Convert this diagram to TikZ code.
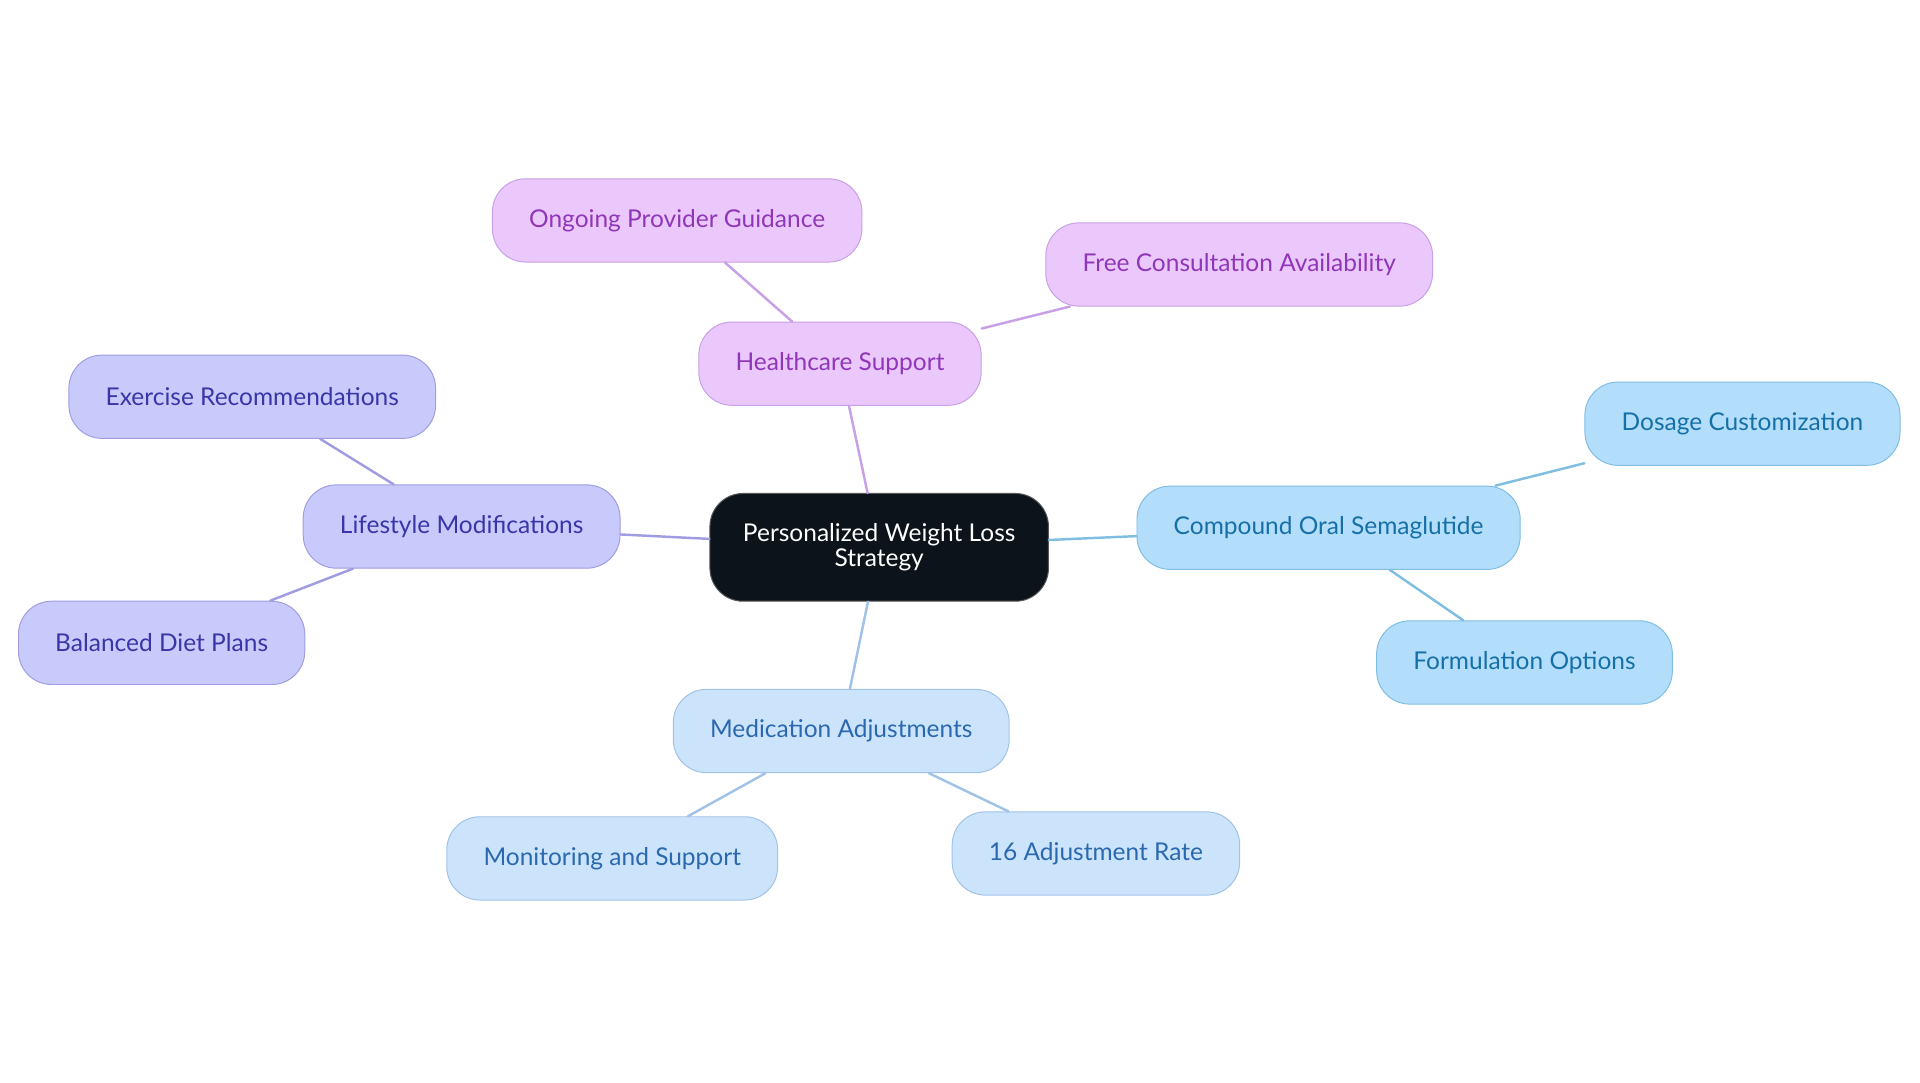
\documentclass[tikz,border=0pt]{standalone}
\usepackage{fontspec}
\setmainfont{Lato}
\definecolor{hubfill}{HTML}{0D131A}
\definecolor{purfill}{HTML}{EAC8FB}
\definecolor{purline}{HTML}{C8A0E8}
\definecolor{purtext}{HTML}{9036B8}
\definecolor{lavfill}{HTML}{C8CAFB}
\definecolor{lavline}{HTML}{A09CE2}
\definecolor{lavtext}{HTML}{3A35A8}
\definecolor{skyfill}{HTML}{B3DEFB}
\definecolor{skyline}{HTML}{80BDE3}
\definecolor{skytext}{HTML}{1670A8}
\definecolor{palefill}{HTML}{CCE4FB}
\definecolor{paleline}{HTML}{A0C2E8}
\definecolor{paletext}{HTML}{2A68B0}

\begin{document}
\begin{tikzpicture}[line cap=round,line join=round,x=1pt,y=-1pt,
  box/.style={rounded corners=27pt,minimum height=68pt,inner xsep=30pt,font=\fontsize{20}{21}\selectfont,line width=0.8pt},
  hub/.style={box,fill=hubfill,draw=gray!70!black,text=white,align=center,minimum height=88pt,inner xsep=27pt},
  pur/.style={box,fill=purfill,draw=purline,text=purtext},
  lav/.style={box,fill=lavfill,draw=lavline,text=lavtext},
  sky/.style={box,fill=skyfill,draw=skyline,text=skytext},
  pale/.style={box,fill=palefill,draw=paleline,text=paletext}]
\useasboundingbox (0,0) rectangle (1568,884);
\node[hub] (strategy) at (718,447) {Personalized Weight Loss\\Strategy};
\node[pur] (care) at (686,297) {Healthcare Support};
\node[pur] (guidance) at (553,180) {Ongoing Provider Guidance};
\node[pur] (consult) at (1012,216) {Free Consultation Availability};
\node[lav] (lifestyle) at (377,430) {Lifestyle Modifications};
\node[lav] (exercise) at (206,324) {Exercise Recommendations};
\node[lav] (diet) at (132,525) {Balanced Diet Plans};
\node[sky] (oral) at (1085,431) {Compound Oral Semaglutide};
\node[sky] (dosage) at (1423,346) {Dosage Customization};
\node[sky] (formula) at (1245,541) {Formulation Options};
\node[pale] (meds) at (687,597) {Medication Adjustments};
\node[pale] (monitor) at (500,701) {Monitoring and Support};
\node[pale] (rate) at (895,697) {16 Adjustment Rate};
\foreach \a/\b/\c in {strategy/care/purline,care/guidance/purline,care/consult/purline,
  strategy/lifestyle/lavline,lifestyle/exercise/lavline,lifestyle/diet/lavline,
  strategy/oral/skyline,oral/dosage/skyline,oral/formula/skyline,
  strategy/meds/paleline,meds/monitor/paleline,meds/rate/paleline}
\draw[color=\c,line width=2pt] (\a) -- (\b);
\end{tikzpicture}
\end{document}
